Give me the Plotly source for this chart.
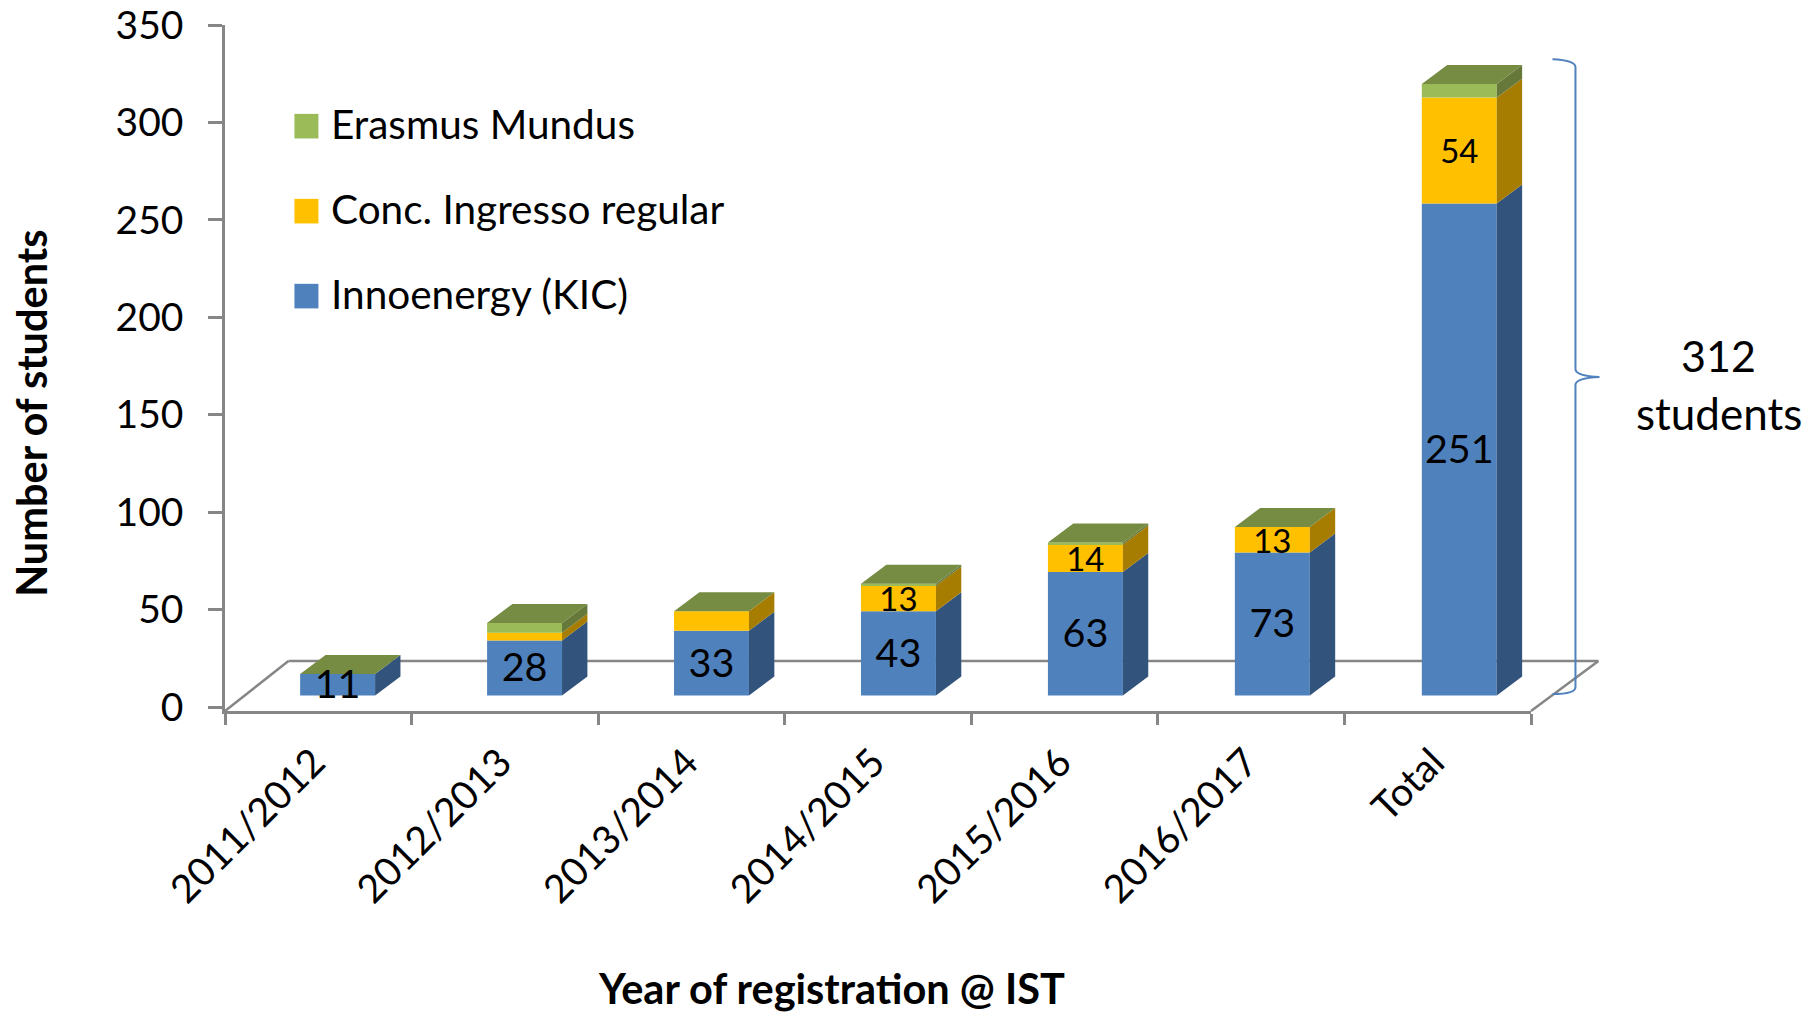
import plotly.graph_objects as go

categories = ["2011/2012", "2012/2013", "2013/2014", "2014/2015", "2015/2016", "2016/2017", "Total"]
innoenergy = [11, 28, 33, 43, 63, 73, 251]
conc_ingresso = [0, 4, 10, 13, 14, 13, 54]
erasmus = [0, 5, 0, 1, 1, 0, 7]
y_ticks = [0, 50, 100, 150, 200, 250, 300, 350]

PAGE = 8  # default page margin of the html body
W, H = 1818 - PAGE, 1012 - PAGE
L, R, T, B = 224.5, 1531.5, 24.8, 711.0
FONT = "Lato"
AXIS = "#868686"

# 3-D look of the original, as offsets in axis units
BAR_W = 0.4017
SHIFT = 0.1036
STEP = 1.002
DEPTH_X = 0.136
DEPTH_Y = 9.75
FLOOR = 5.9
SCALE = 1.006
LABEL_DROP = 1.8
LABEL_DROP_SMALL = 2.4
TICK_NUDGE = 0.025


def px(x):
    return (x - L) / (R - L)


def py(y):
    return (B - y) / (B - T)


series = [
    ("Innoenergy (KIC)", innoenergy, "#4F81BD", "#32537B"),
    ("Conc. Ingresso regular", conc_ingresso, "#FFC000", "#A67D00"),
    ("Erasmus Mundus", erasmus, "#9BBB59", "#66793B"),
]
TOP_COLOR = "#778C43"

fig = go.Figure()
centers = [i * STEP + SHIFT for i in range(len(categories))]
bottoms = [FLOOR] * len(categories)
side_traces = []
for name, values, color, side in series:
    heights = [v * SCALE for v in values]
    fig.add_trace(go.Bar(x=centers, y=heights, base=bottoms, width=BAR_W, name=name,
                         marker=dict(color=color, line=dict(width=0)), showlegend=False))
    sx, sy = [], []
    for c, b, h in zip(centers, bottoms, heights):
        if h <= 0:
            continue
        xr = c + BAR_W / 2
        sx += [xr, xr + DEPTH_X, xr + DEPTH_X, xr, xr, None]
        sy += [b, b + DEPTH_Y, b + h + DEPTH_Y, b + h, b, None]
    side_traces.append(go.Scatter(x=sx, y=sy, mode="lines", fill="toself", fillcolor=side,
                                  line=dict(width=0, color=side), hoverinfo="skip",
                                  showlegend=False, name=name + " side"))
    bottoms = [b + h for b, h in zip(bottoms, heights)]
for t in side_traces:
    fig.add_trace(t)

tx, ty = [], []
for c, top in zip(centers, bottoms):
    xl, xr = c - BAR_W / 2, c + BAR_W / 2
    tx += [xl, xr, xr + DEPTH_X, xl + DEPTH_X, xl, None]
    ty += [top, top, top + DEPTH_Y, top + DEPTH_Y, top, None]
fig.add_trace(go.Scatter(x=tx, y=ty, mode="lines", fill="toself", fillcolor=TOP_COLOR,
                         line=dict(width=0, color=TOP_COLOR), hoverinfo="skip",
                         showlegend=False, name="top"))

# value labels
fig.add_trace(go.Scatter(x=centers, y=[FLOOR + v * SCALE / 2 - LABEL_DROP for v in innoenergy],
                         mode="text", text=[str(v) for v in innoenergy],
                         textposition="middle center",
                         textfont=dict(family=FONT, size=39.5, color="#000000"),
                         showlegend=False, hoverinfo="skip", cliponaxis=False))
lab = [i for i, v in enumerate(conc_ingresso) if v >= 13]
fig.add_trace(go.Scatter(x=[centers[i] for i in lab],
                         y=[FLOOR + (innoenergy[i] + conc_ingresso[i] / 2) * SCALE - LABEL_DROP_SMALL
                            for i in lab],
                         mode="text", text=[str(conc_ingresso[i]) for i in lab],
                         textposition="middle center",
                         textfont=dict(family=FONT, size=33, color="#000000"),
                         showlegend=False, hoverinfo="skip", cliponaxis=False))

shapes = []
for x0, y0, x1, y1 in [(L, B, 288, 661), (288, 661, 1599, 661), (1599, 661, R, B)]:
    shapes.append(dict(type="line", xref="paper", yref="paper", layer="below",
                       x0=px(x0), y0=py(y0), x1=px(x1), y1=py(y1),
                       line=dict(color=AXIS, width=2.5)))

# brace
brace = [("M", 1553, 59), ("Q", 1576, 60, 1576, 67), ("L", 1576, 369),
         ("Q", 1576, 376, 1600, 377), ("Q", 1576, 378, 1576, 385), ("L", 1576, 687),
         ("Q", 1576, 694, 1553, 694)]
d = ""
for seg in brace:
    d += seg[0] + " ".join(
        f"{px(v) if k % 2 == 0 else py(v):.5f}" for k, v in enumerate(seg[1:])) + " "
shapes.append(dict(type="path", xref="paper", yref="paper", path=d.strip(),
                   line=dict(color="#4F81BD", width=2)))

annotations = []
# legend
for (name, _, color, _), yc in zip(series, [296, 211, 126]):
    shapes.append(dict(type="rect", xref="paper", yref="paper", x0=px(294), x1=px(318),
                       y0=py(yc + 12.3), y1=py(yc - 12.3), fillcolor=color, line=dict(width=0)))
    annotations.append(dict(x=px(329), y=py(yc - 3), xref="paper", yref="paper", text=name,
                            xanchor="left", yanchor="middle", showarrow=False,
                            font=dict(family=FONT, size=40.5, color="#000000")))

annotations += [
    dict(x=px(1719), y=py(355), xref="paper", yref="paper", text="312", showarrow=False,
         xanchor="center", yanchor="middle", font=dict(family=FONT, size=43, color="#000000")),
    dict(x=px(1720), y=py(413), xref="paper", yref="paper", text="students", showarrow=False,
         xanchor="center", yanchor="middle", font=dict(family=FONT, size=44, color="#000000")),
    dict(x=px(30), y=py(413), xref="paper", yref="paper", text="<b>Number of students</b>",
         textangle=-90, showarrow=False, xanchor="center", yanchor="middle",
         font=dict(family=FONT, size=41.5, color="#000000")),
    dict(x=px(831), y=py(988), xref="paper", yref="paper",
         text="<b>Year of registration @ IST</b>", showarrow=False, xanchor="center",
         yanchor="middle", font=dict(family=FONT, size=41.5, color="#000000")),
]

fig.update_layout(
    width=W, height=H, paper_bgcolor="#FFFFFF", plot_bgcolor="#FFFFFF",
    margin=dict(l=L - PAGE, r=W - (R - PAGE), t=T - PAGE, b=H - (B - PAGE), pad=0, autoexpand=False),
    barmode="overlay", showlegend=False, shapes=shapes, annotations=annotations,
    xaxis=dict(range=[-0.5, 6.5], tickmode="array",
               tickvals=[i - TICK_NUDGE for i in range(len(categories))],
               ticktext=categories, tickangle=-45, ticks="", ticklabelstandoff=10,
               ticklabeloverflow="allow",
               showgrid=False, zeroline=False, showline=True, linecolor=AXIS, linewidth=3,
               tickfont=dict(family=FONT, size=39, color="#000000"),
               minor=dict(tickmode="array", tickvals=[i - 0.5 for i in range(len(categories) + 1)],
                          ticks="outside", ticklen=11, tickwidth=3, tickcolor=AXIS, showgrid=False)),
    yaxis=dict(range=[-2.05, 350], tickmode="array", tickvals=y_ticks,
               ticks="outside", ticklen=14, tickwidth=3, tickcolor=AXIS, ticklabelstandoff=17,
               ticklabeloverflow="allow",
               showgrid=False, zeroline=False, showline=True, linecolor=AXIS, linewidth=2.5,
               tickfont=dict(family=FONT, size=39, color="#000000")),
)

fig.write_html("out.html")
